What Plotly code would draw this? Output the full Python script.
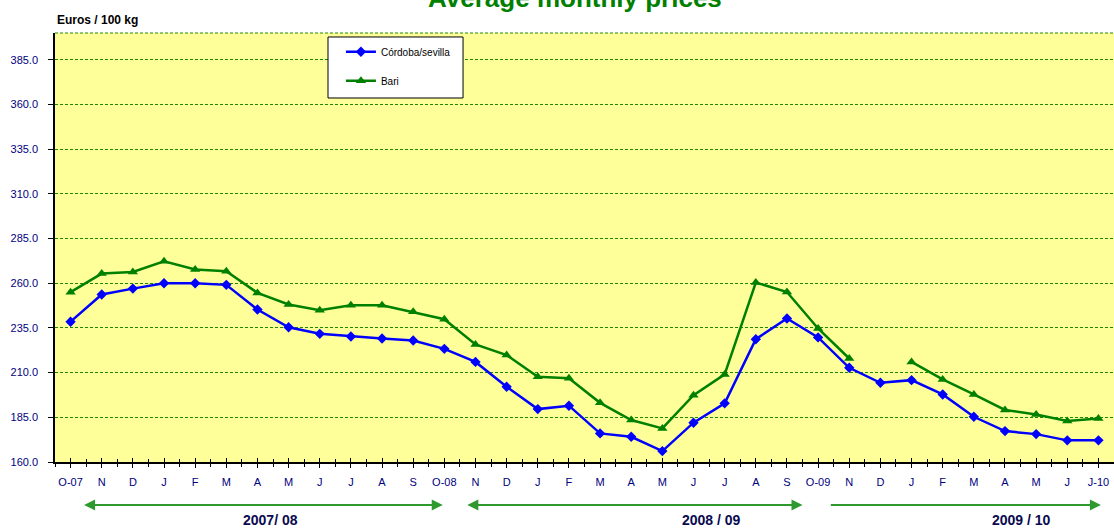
import plotly.graph_objects as go

months = ["O-07", "N", "D", "J", "F", "M", "A", "M", "J", "J", "A", "S",
          "O-08", "N", "D", "J", "F", "M", "A", "M", "J", "J", "A", "S",
          "O-09", "N", "D", "J", "F", "M", "A", "M", "J", "J-10"]

cordoba = [238.5, 253.7, 257.0, 260.0, 260.0, 259.1, 245.3, 235.4, 231.7, 230.2, 229.1, 228.0,
           223.3, 216.0, 202.1, 189.6, 191.5, 176.0, 174.1, 166.1, 182.0, 192.8, 228.7, 240.3,
           229.7, 212.7, 204.3, 205.8, 197.8, 185.3, 177.3, 175.6, 172.1, 172.1]

bari = [255.0, 265.4, 266.3, 272.3, 267.7, 266.7, 254.6, 248.1, 244.9, 247.7, 247.7, 244.0,
        239.9, 225.8, 219.8, 207.7, 206.8, 193.1, 183.5, 178.8, 197.4, 209.0, 260.4, 255.1,
        234.7, 217.9, None, 216.0, 206.2, 197.8, 189.1, 186.6, 182.9, 184.4]

y_ticks = [160, 185, 210, 235, 260, 285, 310, 335, 360, 385]

seasons = ["2007/ 08", "2008 / 09", "2009 / 10"]
season_label_x = [6.41, 20.58, 30.54]
season_arrow_from = [0.385, 12.69, 24.36]
season_arrow_to = [11.95, 23.5, 33.08]
season_sides = ["end+start", "end+start", "end"]

x = list(range(len(months)))
half_ticks = [i + 0.5 for i in range(-1, 34)]

fig = go.Figure()
fig.add_trace(go.Scatter(
    x=x, y=cordoba, name="Córdoba/sevilla", mode="lines+markers",
    line=dict(color="#0000FF", width=2.5),
    marker=dict(symbol="diamond", size=8, color="#0000FF"),
    legendgroup="a"))
fig.add_trace(go.Scatter(
    x=x, y=bari, name="Bari", mode="lines+markers",
    line=dict(color="#008000", width=2.5),
    marker=dict(symbol="triangle-up", size=9, color="#008000"),
    connectgaps=False, legendgroup="b"))
# invisible helper trace so the overlay axis (inner tick halves) is drawn
fig.add_trace(go.Scatter(x=[x[0]], y=[cordoba[0]], xaxis="x2", mode="markers",
                         marker=dict(opacity=0), showlegend=False, hoverinfo="skip"))

grid_col = "#1f8a00"

fig.update_layout(
    width=1114, height=528,
    margin=dict(l=55, r=0, t=33, b=66),
    paper_bgcolor="white", plot_bgcolor="#FFFF99",
    font=dict(family="Liberation Sans, Arial, sans-serif", color="#000080"),
    showlegend=True,
    legend=dict(x=0.27, y=0.99, xanchor="left", yanchor="top",
                bgcolor="rgba(0,0,0,0)", borderwidth=0,
                font=dict(size=10, color="#000000"),
                traceorder="grouped", tracegroupgap=10),
    xaxis=dict(range=[-0.5, 33.5], tickmode="array", tickvals=x, ticktext=months,
               showgrid=False, zeroline=False, showline=True, linecolor="black", linewidth=1.5,
               ticks="outside", ticklen=4, tickcolor="black",
               ticklabelstandoff=5,
               tickfont=dict(size=11, color="#000080"),
               minor=dict(tickvals=half_ticks, ticks="outside",
                          ticklen=3, tickcolor="black", showgrid=False)),
    xaxis2=dict(range=[-0.5, 33.5], overlaying="x", side="bottom", tickmode="array",
                tickvals=x, ticktext=[""] * len(x), showgrid=False, zeroline=False,
                showline=False, ticks="inside", ticklen=4, tickcolor="black",
                minor=dict(tickvals=half_ticks, ticks="inside", ticklen=3,
                           tickcolor="black", showgrid=False)),
    yaxis=dict(range=[160, 400], tickmode="array", tickvals=y_ticks,
               tickformat=".1f", showgrid=True, gridcolor=grid_col,
               griddash="3px,2px", gridwidth=1, zeroline=False,
               showline=True, linecolor="black", linewidth=1.5,
               ticks="outside", ticklen=5, tickcolor="black",
               ticklabelstandoff=8,
               tickfont=dict(size=11, color="#000080")),
)

# dashed top border
fig.add_shape(type="line", xref="paper", yref="paper", x0=0, x1=1, y0=1, y1=1,
              line=dict(color=grid_col, width=1, dash="3px,2px"))
# legend box
fig.add_shape(type="rect", xref="paper", yref="paper",
              x0=0.2578, x1=0.3853, y0=0.8485, y1=0.9907,
              fillcolor="white", line=dict(color="black", width=1), layer="above")

fig.add_annotation(text="<b>Average monthly prices</b>", xref="paper", yref="paper",
                   x=0.491, y=1.082, xanchor="center", yanchor="middle", showarrow=False,
                   font=dict(size=26, color="#008000"))
fig.add_annotation(text="<b>Euros / 100 kg</b>", xref="paper", yref="paper",
                   x=0.0, y=1.0303, xanchor="left", yanchor="middle", showarrow=False,
                   font=dict(size=12, color="black"))

for lab, lx, a0, a1, side in zip(seasons, season_label_x, season_arrow_from,
                                 season_arrow_to, season_sides):
    fig.add_annotation(x=a1, y=-0.1, xref="x", yref="paper", ax=a0, ay=0,
                       axref="x", ayref="pixel", text="", showarrow=True,
                       arrowhead=2, arrowside=side, arrowsize=1.1, arrowwidth=2,
                       arrowcolor="#2E9A2E", standoff=0, startstandoff=0)
    fig.add_annotation(x=lx, y=-0.135, xref="x", yref="paper", text="<b>" + lab + "</b>",
                       showarrow=False, xanchor="center", yanchor="middle",
                       font=dict(size=14, color="#0a0a50"))

fig.write_html("out.html", config={"displayModeBar": False},
               post_script="document.body.style.margin='0';document.body.style.overflow='hidden';")
